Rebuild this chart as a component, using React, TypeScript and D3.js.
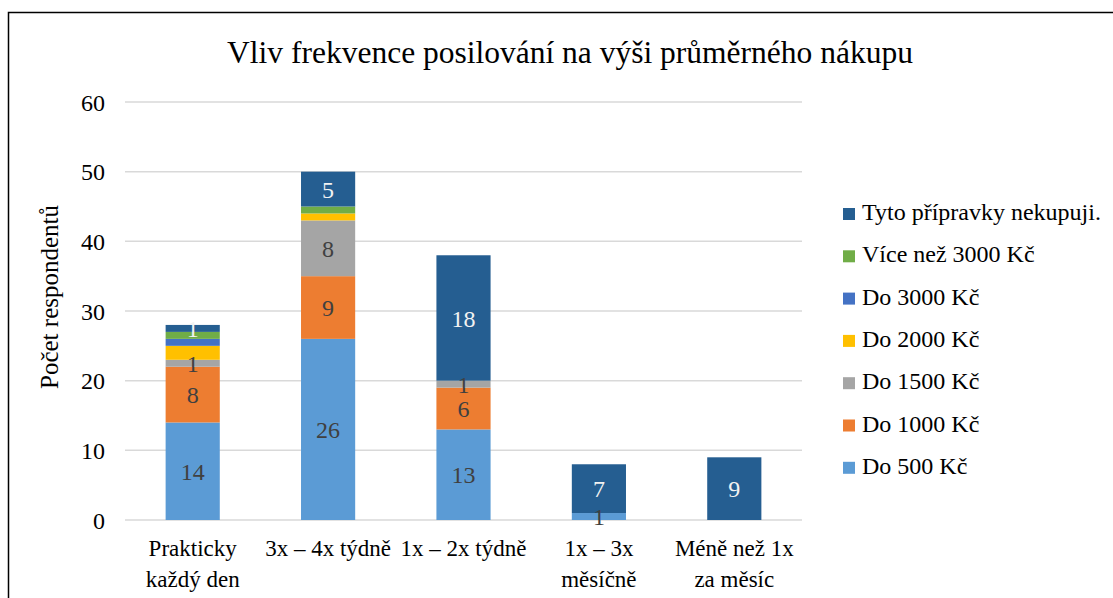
import React from "react";
import * as d3 from "d3";

const categories = [
  ["Prakticky", "každý den"],
  ["3x – 4x týdně"],
  ["1x – 2x týdně"],
  ["1x – 3x", "měsíčně"],
  ["Méně než 1x", "za měsíc"],
];
const seriesNames = [
  "Do 500 Kč",
  "Do 1000 Kč",
  "Do 1500 Kč",
  "Do 2000 Kč",
  "Do 3000 Kč",
  "Více než 3000 Kč",
  "Tyto přípravky nekupuji.",
];
const do500 = [14, 26, 13, 1, 0];
const do1000 = [8, 9, 6, 0, 0];
const do1500 = [1, 8, 1, 0, 0];
const do2000 = [2, 1, 0, 0, 0];
const do3000 = [1, 0, 0, 0, 0];
const vice3000 = [1, 1, 0, 0, 0];
const nekupuji = [1, 5, 18, 7, 9];
const seriesValues = [do500, do1000, do1500, do2000, do3000, vice3000, nekupuji];
const colors = ["#5B9BD5", "#ED7D31", "#A5A5A5", "#FFC000", "#4472C4", "#70AD47", "#255E91"];
const showLabel = [true, true, true, false, false, false, true];
const labelColors = ["#404040", "#404040", "#404040", "#404040", "#404040", "#404040", "#F2F2F2"];
const yTicks = [0, 10, 20, 30, 40, 50, 60];

const FONT = "Liberation Serif";

export default function App() {
  const W = 1113, H = 598;
  const left = 125, right = 802, top = 102, bottom = 520;
  const x = d3.scaleBand<number>().domain(categories.map((_, i) => i)).range([left, right]).paddingInner(0.6).paddingOuter(0.3);
  const y = d3.scaleLinear().domain([0, 60]).range([bottom, top]);

  const table = categories.map((_, i) => {
    const row: any = { idx: i };
    seriesNames.forEach((s, j) => (row[s] = seriesValues[j][i]));
    return row;
  });
  const stack = d3.stack<any>().keys(seriesNames)(table);
  const ts = { fontFamily: FONT };

  return (
    <svg width={W} height={H} style={{ display: "block", position: "absolute", left: 0, top: 0 }}>
      <rect x={0} y={0} width={W} height={H} fill="#fff" />
      <rect x={8.5} y={12.5} width={W + 20} height={H + 20} fill="none" stroke="#000" strokeWidth={1.5} />
      <text x={570} y={63} textAnchor="middle" fontSize={31.5} fill="#000" style={ts}>
        Vliv frekvence posilování na výši průměrného nákupu
      </text>
      {yTicks.map((t) => (
        <g key={t}>
          <line x1={left} x2={right} y1={y(t)} y2={y(t)} stroke="#D9D9D9" strokeWidth={1.5} />
          <text x={105} y={y(t)} dy="0.36em" textAnchor="end" fontSize={24} fill="#000" style={ts}>
            {t}
          </text>
        </g>
      ))}
      <text transform={`translate(58,297) rotate(-90)`} textAnchor="middle" fontSize={25} fill="#000" style={ts}>
        Počet respondentů
      </text>
      {stack.map((layer, j) => (
        <g key={j}>
          {layer.map((d, i) => {
            const v = d[1] - d[0];
            if (v <= 0) return null;
            return (
              <rect key={i} x={x(i)} width={x.bandwidth()} y={y(d[1])} height={y(d[0]) - y(d[1])} fill={colors[j]} />
            );
          })}
        </g>
      ))}
      {stack.map((layer, j) =>
        showLabel[j] ? (
          <g key={"l" + j}>
            {layer.map((d, i) => {
              const v = d[1] - d[0];
              if (v <= 0) return null;
              return (
                <text
                  key={i}
                  x={(x(i) as number) + x.bandwidth() / 2}
                  y={y((d[0] + d[1]) / 2)}
                  dy="0.36em"
                  textAnchor="middle"
                  fontSize={24}
                  fill={labelColors[j]}
                  style={ts}
                >
                  {v}
                </text>
              );
            })}
          </g>
        ) : null
      )}
      {categories.map((lines, i) => (
        <text key={i} x={(x(i) as number) + x.bandwidth() / 2} textAnchor="middle" fontSize={23} fill="#000" style={ts}>
          {lines.map((l, k) => (
            <tspan key={k} x={(x(i) as number) + x.bandwidth() / 2} y={556 + k * 31}>
              {l}
            </tspan>
          ))}
        </text>
      ))}
      {seriesNames
        .map((s, j) => ({ s, j }))
        .reverse()
        .map(({ s, j }, k) => (
          <g key={s} transform={`translate(843,${214 + k * 42.3})`}>
            <rect x={0} y={-6} width={12} height={12} fill={colors[j]} />
            <text x={19} y={6} fontSize={24} fill="#000" style={ts}>
              {s}
            </text>
          </g>
        ))}
    </svg>
  );
}
